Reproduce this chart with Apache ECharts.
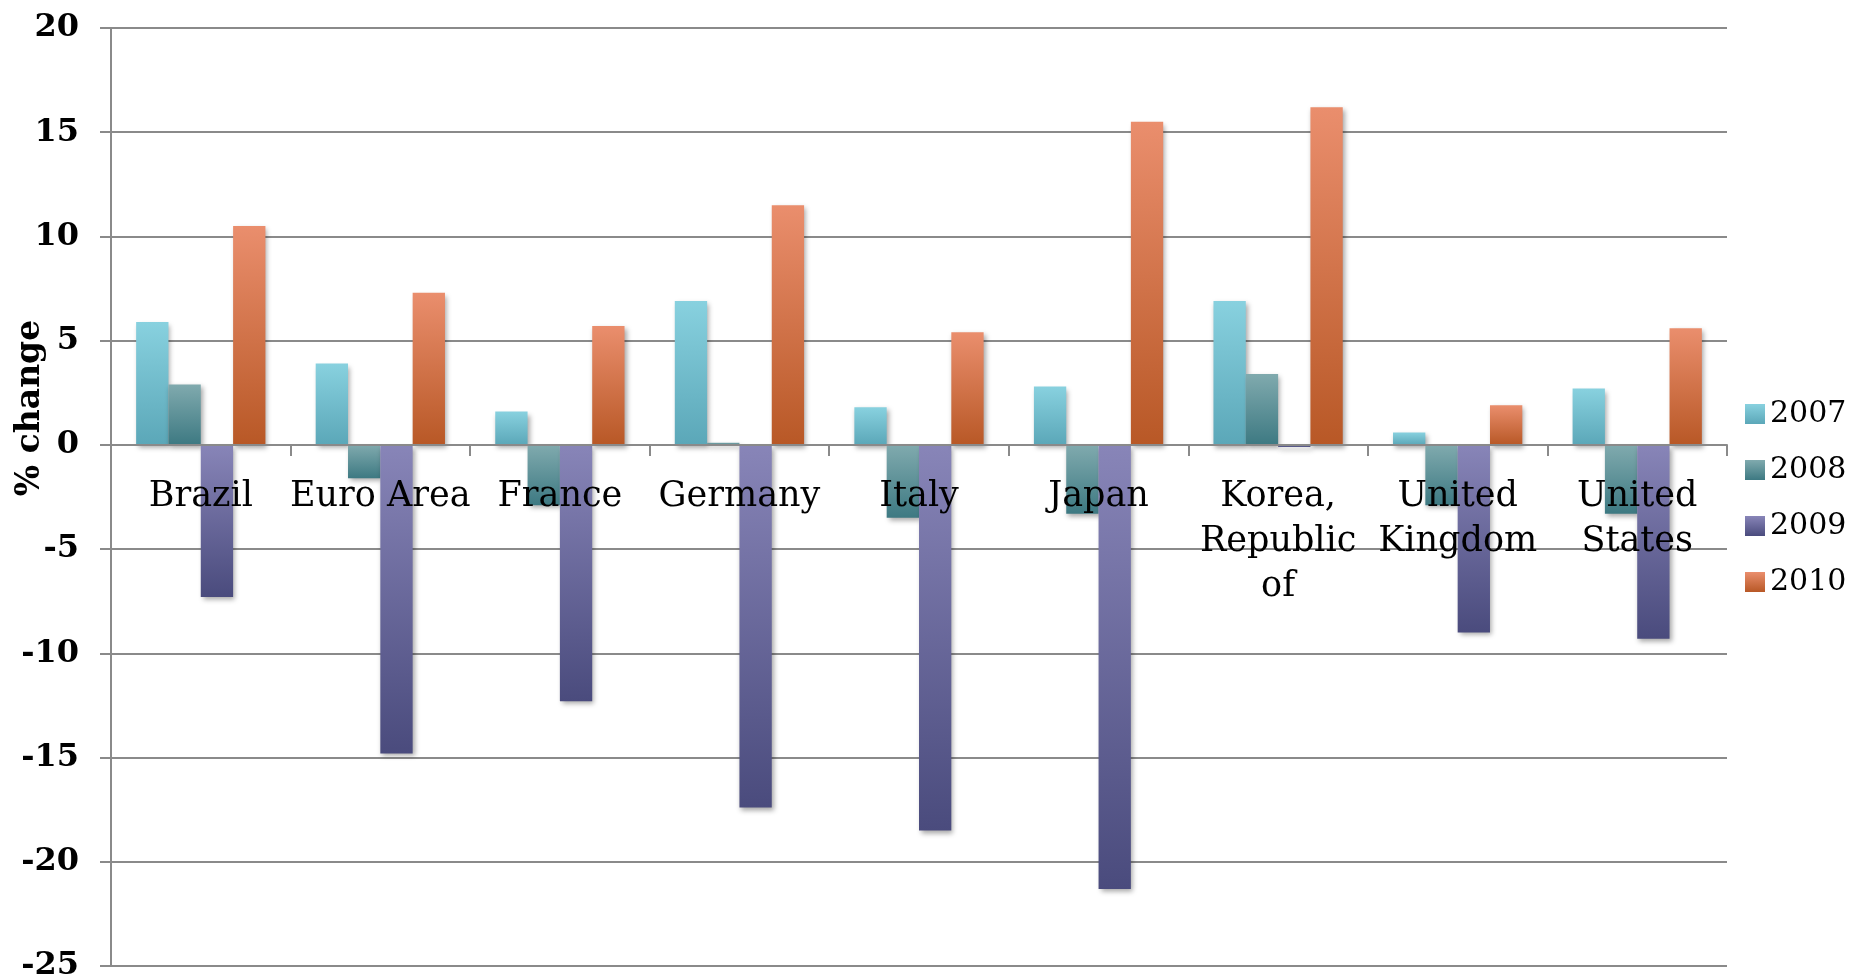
<!DOCTYPE html>
<html>
<head>
<meta charset="utf-8">
<script src="https://cdn.jsdelivr.net/npm/echarts@6/dist/echarts.min.js"></script>
<style>html,body{margin:0;padding:0;background:#fff}#c{width:1856px;height:979px}</style>
</head>
<body>
<div id="c"></div>
<script>
const categories = ['Brazil', 'Euro Area', 'France', 'Germany', 'Italy', 'Japan', 'Korea,\nRepublic\nof', 'United\nKingdom', 'United\nStates'];
const seriesNames = ['2007', '2008', '2009', '2010'];
const v2007 = [5.9, 3.9, 1.6, 6.9, 1.8, 2.8, 6.9, 0.6, 2.7];
const v2008 = [2.9, -1.6, -2.9, 0.1, -3.5, -3.3, 3.4, -2.9, -3.3];
const v2009 = [-7.3, -14.8, -12.3, -17.4, -18.5, -21.3, -0.1, -9.0, -9.3];
const v2010 = [10.5, 7.3, 5.7, 11.5, 5.4, 15.5, 16.2, 1.9, 5.6];
const yTicks = { min: -25, max: 20, interval: 5 };

const values = [v2007, v2008, v2009, v2010];
const gradients = [
  ['#88d1df', '#5ba7b8'],
  ['#80aaae', '#3d7982'],
  ['#8885b8', '#4a4b7d'],
  ['#ea8e6d', '#b85826']
];
const serif = '"DejaVu Serif", "Liberation Serif", serif';

const barSeries = seriesNames.map((name, i) => ({
  name: name,
  type: 'bar',
  data: values[i],
  barGap: '0%',
  barCategoryGap: '28%',
  itemStyle: {
    color: new echarts.graphic.LinearGradient(0, 0, 0, 1, [
      { offset: 0, color: gradients[i][0] },
      { offset: 1, color: gradients[i][1] }
    ]),
    shadowColor: 'rgba(0,0,0,0.35)',
    shadowBlur: 5,
    shadowOffsetX: 2,
    shadowOffsetY: 3
  }
}));

// category labels placed at the zero line through the axis scales
const labelSeries = {
  name: 'labels',
  type: 'scatter',
  symbolSize: 0,
  silent: true,
  z: 10,
  itemStyle: { opacity: 1 },
  data: categories.map(c => [c, 0]),
  label: {
    show: true,
    position: 'bottom',
    distance: 30,
    formatter: p => p.value[0],
    fontFamily: serif,
    fontSize: 35,
    lineHeight: 45,
    color: '#000',
    opacity: 1,
    align: 'center'
  }
};

const chart = echarts.init(document.getElementById('c'));
chart.setOption({
  animation: false,
  backgroundColor: '#ffffff',
  grid: { left: 111, right: 129, top: 28, bottom: 13, containLabel: false, outerBoundsMode: 'none' },
  legend: {
    orient: 'vertical',
    left: 1740,
    top: 394,
    itemWidth: 20,
    itemHeight: 20,
    itemGap: 26,
    icon: 'rect',
    data: seriesNames,
    textStyle: { fontFamily: serif, fontSize: 30, color: '#000', lineHeight: 30 }
  },
  xAxis: {
    type: 'category',
    data: categories,
    z: 10,
    axisLine: { onZero: true, onZeroAxisIndex: 0, lineStyle: { color: '#8a8a8a', width: 2 } },
    axisTick: { show: true, length: 11, lineStyle: { color: '#8a8a8a', width: 2 } },
    axisLabel: { show: false }
  },
  yAxis: {
    type: 'value',
    min: yTicks.min,
    max: yTicks.max,
    interval: yTicks.interval,
    axisLine: { show: true, lineStyle: { color: '#8a8a8a', width: 2 } },
    axisTick: { show: true, length: 11, lineStyle: { color: '#8a8a8a', width: 2 } },
    splitLine: { show: true, lineStyle: { color: '#8a8a8a', width: 2 } },
    axisLabel: {
      margin: 32,
      fontFamily: serif,
      fontWeight: 'bold',
      fontSize: 32,
      color: '#000'
    }
  },
  graphic: [{
    type: 'text',
    x: 30,
    y: 408,
    rotation: Math.PI / 2,
    style: {
      text: '% change',
      font: 'bold 33px ' + serif,
      fill: '#000',
      textAlign: 'center',
      textVerticalAlign: 'middle'
    }
  }],
  series: barSeries.concat([labelSeries])
});
</script>
</body>
</html>
